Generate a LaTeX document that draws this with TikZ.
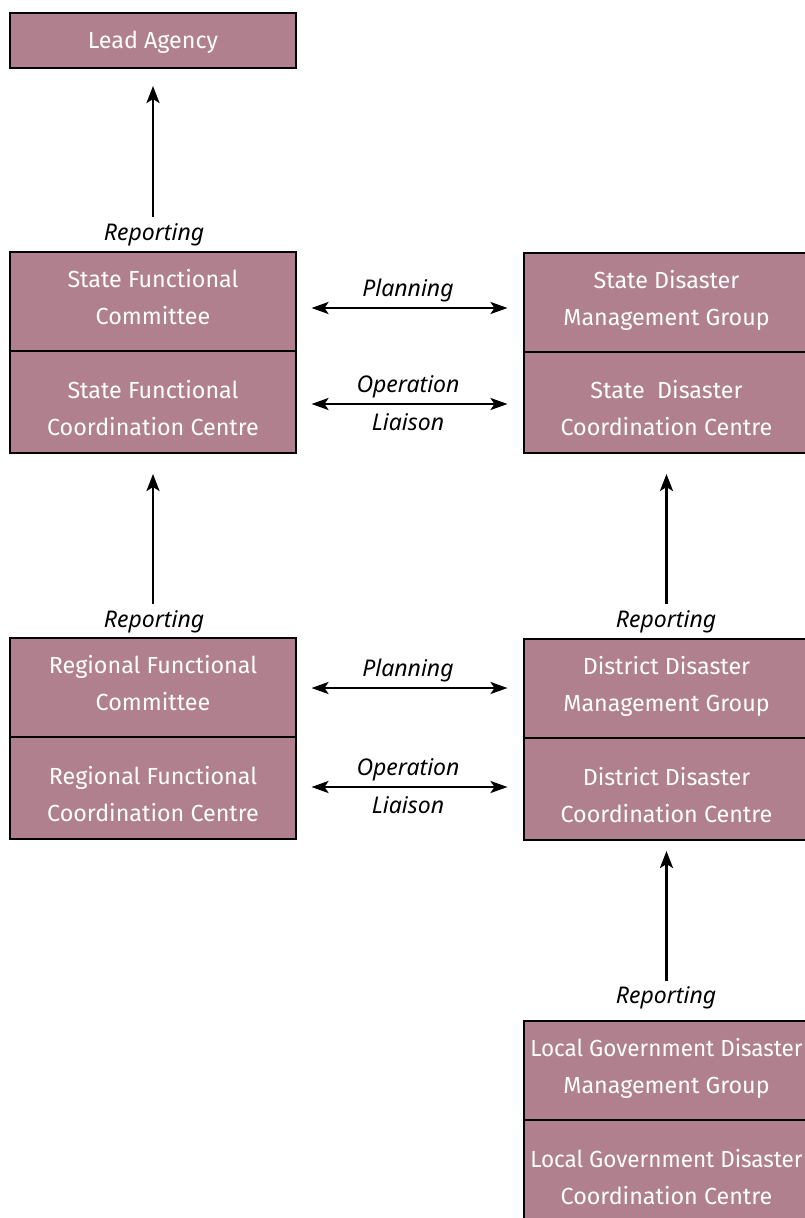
\documentclass[tikz,border=0pt]{standalone}
\usepackage{fontspec}
\usepackage{graphicx}
\setmainfont{Fira Sans}
\newfontfamily\labfont{Noto Sans}
\usetikzlibrary{arrows.meta}
\definecolor{boxfill}{RGB}{176,128,142}
\tikzset{
  box/.style={draw=black, line width=2pt, fill=boxfill, text=white, minimum width=286pt,
    align=center, font=\fontsize{23.3}{37}\selectfont, inner sep=0pt},
  upper/.style={box, minimum height=99pt, text height=60pt, text depth=15pt},
  lower/.style={box, minimum height=102pt, text height=75pt, text depth=9pt},
  lab/.style={font=\labfont\itshape\fontsize{23}{37}\selectfont, inner sep=0pt, anchor=base},
  arr/.style={line width=2.6pt, -{Stealth[length=17pt,width=13pt,inset=4pt]}},
  darr/.style={line width=2.6pt, {Stealth[length=17pt,width=12pt,inset=4pt]}-{Stealth[length=17pt,width=12pt,inset=4pt]}, shorten <=14.5pt, shorten >=15pt}
}
\newcommand{\lgd}{\scalebox{0.965}[1]{Local Government Disaster}}
\begin{document}
\begin{tikzpicture}[x=1pt,y=-1pt]
\useasboundingbox (0,0) rectangle (805,1218);
\clip (0,0) rectangle (805,1218);
% left column
\node[box, minimum height=55pt, text height=17pt, text depth=1pt] (lead) at (153,40.5) {Lead Agency};
\node[upper] (sfc) at (153,301.5) {State Functional\\Committee};
\node[lower] (sfcc) at (153,402) {State Functional\\Coordination Centre};
\node[upper] (rfc) at (153,687.5) {Regional Functional\\Committee};
\node[lower] (rfcc) at (153,788) {Regional Functional\\Coordination Centre};
% right column
\node[upper] (sdmg) at (666.5,302.5) {State Disaster\\Management Group};
\node[lower, minimum height=101pt] (sdcc) at (666.5,402.5) {State\ \ Disaster\\Coordination Centre};
\node[upper] (ddmg) at (666.5,688.5) {District Disaster\\Management Group};
\node[lower] (ddcc) at (666.5,789) {District Disaster\\Coordination Centre};
\node[upper] (lgmg) at (666.5,1070.5) {\lgd\\Management Group};
\node[lower] (lgcc) at (666.5,1171) {\lgd\\Coordination Centre};
% vertical arrows
\draw[arr, shorten <=34pt, shorten >=17pt] (sfc.north) -- (lead.south);
\draw[arr, shorten <=33pt, shorten >=20pt] (rfc.north) -- (sfcc.south);
\draw[arr, shorten <=34pt, shorten >=20pt] (ddmg.north) -- (sdcc.south);
\draw[arr, shorten <=39pt, shorten >=10pt] (lgmg.north) -- (ddcc.south);
% reporting labels
\node[lab] (rep1) at (154,240) {Reporting};
\node[lab] (rep2) at (154,627) {Reporting};
\node[lab] (rep3) at (666,627) {Reporting};
\node[lab] (rep4) at (666,1003) {Reporting};
% horizontal arrows
\draw[darr] ([yshift=-6.5pt]sfc.east) -- ([yshift=-6.5pt]sfc.east -| sdmg.west);
\draw[darr] ([yshift=-2pt]sfcc.east) -- ([yshift=-2pt]sfcc.east -| sdcc.west);
\draw[darr] ([yshift=-0.5pt]rfc.east) -- ([yshift=-0.5pt]rfc.east -| ddmg.west);
\draw[darr] ([yshift=1pt]rfcc.east) -- ([yshift=1pt]rfcc.east -| ddcc.west);
\node[lab] (pl1) at (408,296) {Planning};
\node[lab] (op1) at (408,392) {Operation};
\node[lab] (li1) at (408,430) {Liaison};
\node[lab] (pl2) at (408,676) {Planning};
\node[lab] (op2) at (408,775) {Operation};
\node[lab] (li2) at (408,813) {Liaison};
\end{tikzpicture}
\end{document}
